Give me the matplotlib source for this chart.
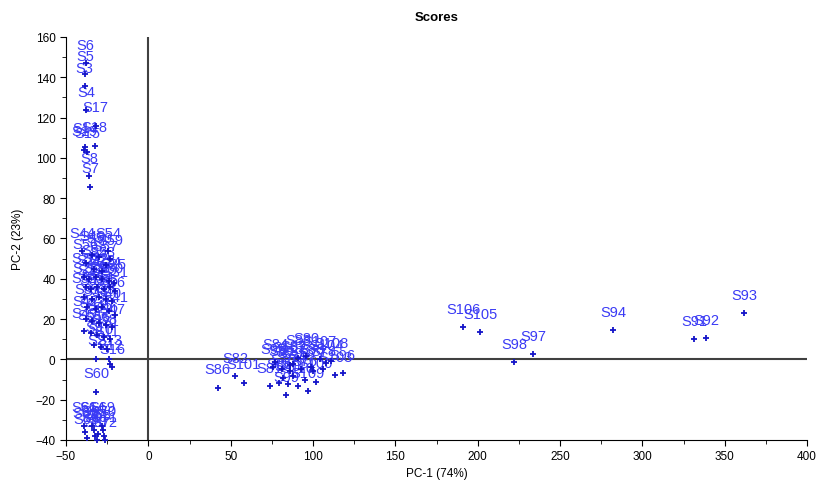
import matplotlib.pyplot as plt
from matplotlib.ticker import MultipleLocator

plt.rcParams['font.family'] = ['Liberation Sans', 'DejaVu Sans']

# sample names and PCA scores
samples = [
    # upper left group
    "S6", "S5", "S3", "S4", "S17", "S14", "S18", "S19", "S15", "S8", "S7",
    # main left cluster
    "S44", "S54", "S59", "S48", "S50", "S56", "S57", "S52", "S53",
    "S20", "S21", "S22", "S23", "S24", "S25", "S26", "S27", "S28", "S29",
    "S30", "S31", "S32", "S33", "S34", "S35", "S36", "S37", "S38", "S39",
    "S40", "S41", "S42", "S43", "S45", "S46", "S47", "S49", "S51", "S55",
    "S58", "S1", "S9", "S10", "S11", "S2", "S13", "S12", "S16",
    # below the axis, left
    "S60", "S61", "S62", "S63", "S64", "S65", "S66", "S67", "S68", "S69",
    "S70", "S71", "S72",
    # middle cluster
    "S86", "S82", "S101", "S81", "S85", "S90", "S99", "S110", "S109", "S100",
    "S103", "S80", "S83", "S84", "S87", "S88", "S89", "S102", "S104", "S107",
    "S108", "S73", "S74", "S75", "S76", "S77", "S78", "S79", "S95", "S96",
    # right
    "S106", "S105", "S98", "S97", "S94", "S91", "S92", "S93",
]
pc1 = [
    -38.0, -38.5, -38.7, -37.6, -32.0, -38.5, -32.5, -39.0, -37.0, -35.8, -35.5,
    -40.0, -24.3, -23.0, -34.0, -30.0, -38.0, -26.0, -33.0, -28.0,
    -39.0, -36.0, -32.0, -28.0, -24.0, -21.0, -38.0, -35.0, -31.0, -27.0,
    -23.0, -20.0, -39.0, -34.0, -30.0, -26.0, -22.0, -37.0, -32.0, -28.0,
    -24.0, -20.0, -38.0, -34.0, -30.0, -26.0, -22.0, -39.0, -35.0, -31.0,
    -27.0, -23.0, -33.0, -29.0, -25.0, -31.8, -23.7, -23.0, -22.0,
    -31.8, -39.0, -38.5, -37.5, -34.0, -33.0, -32.5, -31.0, -30.5, -28.0,
    -27.5, -27.0, -26.5,
    42.1, 52.8, 57.9, 73.7, 79.6, 84.6, 83.8, 90.9, 96.7, 101.8,
    113.5, 96.0, 91.0, 77.0, 88.0, 99.0, 81.0, 86.0, 108.0, 104.0,
    111.0, 93.0, 88.0, 82.0, 95.0, 100.0, 106.0, 86.0, 76.0, 118.0,
    191.3, 201.6, 222.2, 233.7, 282.3, 331.5, 338.8, 361.9,
]
pc2 = [
    147.0, 141.6, 135.6, 123.6, 116.0, 105.5, 106.0, 104.0, 103.0, 90.8, 85.8,
    53.6, 53.6, 50.0, 52.0, 51.0, 48.0, 47.0, 45.0, 44.0,
    41.0, 40.0, 41.0, 40.0, 39.0, 38.0, 36.0, 35.0, 36.0, 35.0,
    36.0, 34.0, 31.0, 30.0, 31.0, 30.0, 29.0, 26.0, 25.0, 26.0,
    24.0, 22.0, 20.0, 19.0, 18.0, 17.0, 16.0, 14.0, 13.0, 12.0,
    11.0, 10.0, 7.0, 6.0, 5.0, 0.3, 0.3, -2.1, -3.8,
    -16.0, -33.0, -36.0, -39.0, -33.0, -35.0, -38.0, -40.0, -37.0, -33.0,
    -35.0, -38.0, -40.0,
    -14.1, -8.4, -11.5, -13.2, -11.6, -12.4, -17.9, -13.2, -15.7, -11.1,
    -7.8, 1.5, 0.5, -1.5, -2.5, -4.0, -5.0, -3.0, -2.0, 0.0,
    -1.0, -5.0, -8.0, -9.0, -10.0, -6.0, -5.0, -6.0, -4.0, -7.0,
    15.9, 13.4, -1.5, 2.5, 14.4, 9.9, 10.4, 22.8,
]

fig = plt.figure(figsize=(8.23, 4.89), dpi=100)
ax = fig.add_axes([0.0802, 0.0982, 0.9004, 0.8241])

ax.axhline(0, color="#404040", lw=1.5, zorder=1)
ax.axvline(0, color="#404040", lw=1.5, zorder=1)

for name, x, y in zip(samples, pc1, pc2):
    ax.annotate(name, (x, y), xytext=(0, 13.3), textcoords="offset points",
                ha="center", va="center", color="#3a3af5", fontsize=10.5,
                zorder=2, annotation_clip=False)
ax.plot(pc1, pc2, linestyle="none", marker="+", markersize=4,
        markeredgewidth=1.3, color="#1414c8", zorder=3, clip_on=False)

ax.set_xlim(-50, 400)
ax.set_ylim(-40, 160)
ax.xaxis.set_major_locator(MultipleLocator(50))
ax.xaxis.set_minor_locator(MultipleLocator(25))
ax.yaxis.set_major_locator(MultipleLocator(20))
ax.yaxis.set_minor_locator(MultipleLocator(10))
ax.tick_params(which="major", length=4, labelsize=8.5, colors="black")
ax.tick_params(which="minor", length=3)
for side in ("top", "right"):
    ax.spines[side].set_visible(False)

ax.set_xlabel("PC-1 (74%)", fontsize=8.5, labelpad=3)
ax.set_ylabel("PC-2 (23%)", fontsize=8.5, labelpad=8)
ax.set_title("Scores", fontsize=9.5, fontweight="bold", pad=12)

fig.savefig("out.png", dpi=100)
